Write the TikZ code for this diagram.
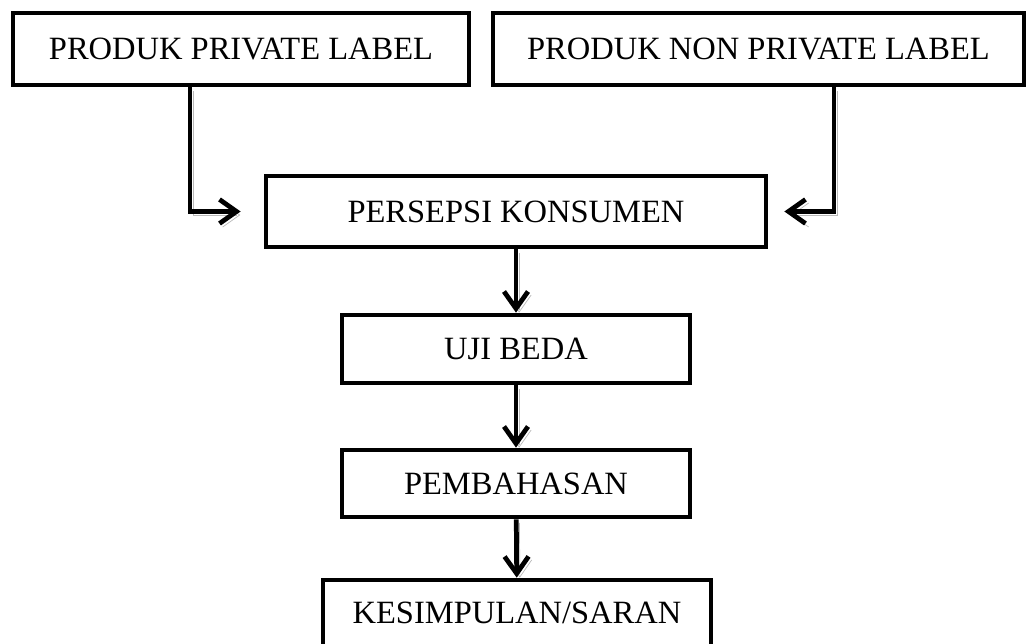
\documentclass[tikz,border=0pt]{standalone}
\usepackage{fontspec}
\setmainfont{Liberation Serif}
\usetikzlibrary{arrows.meta, positioning}
\tikzset{
    flow_box/.style={rectangle, draw=black, line width=2.7pt, fill=white, inner sep=0pt, text centered, font=\fontsize{18.5}{22}\selectfont},
    flow_arrow/.style={line width=2.7pt, -{Straight Barb[length=3.4mm, width=4.8mm]},
        preaction={draw=gray!55, transform canvas={shift={(1.8pt,-2pt)}}}}
}
\begin{document}
\begin{tikzpicture}
    \useasboundingbox (0,0) rectangle (20.54,-12.88);

    % Input boxes
    \node[flow_box, minimum width=9.12cm, minimum height=1.44cm] (private) at (4.82,-0.98) {PRODUK PRIVATE LABEL};
    \node[flow_box, minimum width=10.62cm, minimum height=1.44cm] (nonprivate) at (15.17,-0.98) {PRODUK NON PRIVATE LABEL};

    % Main flow
    \node[flow_box, minimum width=10cm, minimum height=1.42cm] (persepsi) at (10.32,-4.23) {PERSEPSI KONSUMEN};
    \node[flow_box, minimum width=6.96cm, minimum height=1.36cm] (ujibeda) at (10.32,-6.98) {UJI BEDA};
    \node[flow_box, minimum width=6.96cm, minimum height=1.34cm] (bahas) at (10.32,-9.67) {PEMBAHASAN};
    \node[flow_box, minimum width=7.76cm, minimum height=1.32cm] (simpul) at (10.34,-12.26) {KESIMPULAN/SARAN};

    % Connections
    \draw[flow_arrow, shorten >=0.46cm] ([xshift=-1.02cm]private.south) |- (persepsi.west);
    \draw[flow_arrow, shorten >=0.32cm] ([xshift=1.51cm]nonprivate.south) |- (persepsi.east);
    \draw[flow_arrow] (persepsi) -- (ujibeda);
    \draw[flow_arrow] (ujibeda) -- (bahas);
    \draw[flow_arrow] (bahas) -- (simpul);

\end{tikzpicture}
\end{document}
